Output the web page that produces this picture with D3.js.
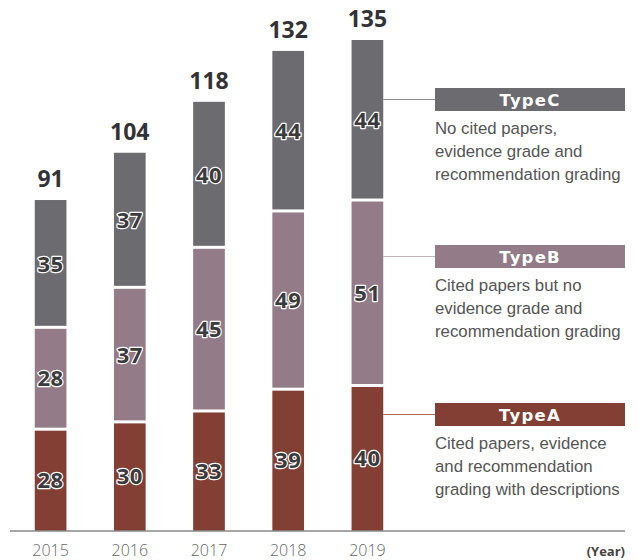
<!DOCTYPE html>
<html>
<head>
<meta charset="utf-8">
<script src="https://cdn.jsdelivr.net/npm/d3@7"></script>
<style>
  body { margin: 0; background: #fff; }
  svg { display: block; }
</style>
</head>
<body>
<svg id="chart" width="638" height="560"></svg>
<script>
// data
let years = ["2015", "2016", "2017", "2018", "2019"];
let typeA = [28, 30, 33, 39, 40];
let typeB = [28, 37, 45, 49, 51];
let typeC = [35, 37, 40, 44, 44];
let totals = [91, 104, 118, 132, 135];
let types = ["TypeA", "TypeB", "TypeC"];
let descriptions = {
  TypeC: ["No cited papers,", "evidence grade and", "recommendation grading"],
  TypeB: ["Cited papers but no", "evidence grade and", "recommendation grading"],
  TypeA: ["Cited papers, evidence", "and recommendation", "grading with descriptions"]
};

let colors = { TypeA: "#843f35", TypeB: "#937b88", TypeC: "#6b6b70" };
let lineColors = { TypeA: "#b5665a", TypeB: "#c2b3bb", TypeC: "#8d8d90" };

let svg = d3.select("#chart");
let baseline = 531;

let x = d3.scaleBand().domain(years).range([11, 407]).paddingInner(0.6).paddingOuter(0.3);
let y = d3.scaleLinear().domain([0, 135]).range([baseline, 40]);

let rows = years.map((yr, i) => ({ year: yr, TypeA: typeA[i], TypeB: typeB[i], TypeC: typeC[i], total: totals[i] }));
let stack = d3.stack().keys(types)(rows);

let gap = 1.5;

// stacked segments
let layers = svg.selectAll(".layer")
  .data(stack)
  .enter()
  .append("g")
  .attr("class", "layer")
  .attr("fill", d => colors[d.key]);

layers.selectAll("rect")
  .data(d => d.map(p => ({ key: d.key, p: p })))
  .enter()
  .append("rect")
  .attr("x", d => x(d.p.data.year))
  .attr("width", x.bandwidth())
  .attr("y", d => y(d.p[1]) + (d.key == "TypeC" ? 0 : gap))
  .attr("height", d => y(d.p[0]) - y(d.p[1]) - (d.key == "TypeC" ? 0 : gap) - (d.key == "TypeA" ? 0 : gap));

// segment values, dark with a white outline
layers.selectAll(".seglabel")
  .data(d => d.map(p => ({ key: d.key, p: p })))
  .enter()
  .append("text")
  .attr("class", "seglabel")
  .attr("x", d => x(d.p.data.year) + x.bandwidth() / 2)
  .attr("y", d => (y(d.p[0]) + y(d.p[1])) / 2 + 8)
  .attr("text-anchor", "middle")
  .attr("font-family", "Open Sans, sans-serif")
  .attr("font-weight", 700)
  .attr("font-size", "22px")
  .attr("letter-spacing", "0.5px")
  .attr("fill", "#3b3b3d")
  .attr("stroke", "#fff")
  .attr("stroke-width", 2.4)
  .attr("paint-order", "stroke")
  .attr("stroke-linejoin", "round")
  .text(d => d.p.data[d.key]);

// totals above the bars
svg.selectAll(".total")
  .data(rows)
  .enter()
  .append("text")
  .attr("class", "total")
  .attr("x", d => x(d.year) + x.bandwidth() / 2)
  .attr("y", d => y(d.total) - 13)
  .attr("text-anchor", "middle")
  .attr("font-family", "Open Sans, sans-serif")
  .attr("font-weight", 700)
  .attr("font-size", "23px")
  .attr("fill", "#333336")
  .text(d => d.total);

// axis line and years
svg.append("line")
  .attr("x1", 10).attr("x2", 625)
  .attr("y1", baseline).attr("y2", baseline)
  .style("stroke", "#8a8a8a")
  .style("stroke-width", 1.5);

svg.selectAll(".year")
  .data(years)
  .enter()
  .append("text")
  .attr("class", "year")
  .attr("x", d => x(d) + x.bandwidth() / 2)
  .attr("y", 556)
  .attr("text-anchor", "middle")
  .attr("font-family", "Open Sans, sans-serif")
  .attr("font-weight", 300)
  .attr("font-size", "16px")
  .attr("fill", "#666")
  .text(d => d);

svg.append("text")
  .attr("x", 625)
  .attr("y", 556)
  .attr("text-anchor", "end")
  .attr("font-family", "Open Sans, sans-serif")
  .attr("font-weight", 700)
  .attr("font-size", "13px")
  .attr("fill", "#444")
  .text("(Year)");

// legend boxes with leader lines
let legendTop = { TypeC: 88, TypeB: 245, TypeA: 403 };
let lastX = x("2019") + x.bandwidth();
let boxX = 435, boxW = 190, boxH = 23;

let legend = svg.selectAll(".legend")
  .data(["TypeC", "TypeB", "TypeA"])
  .enter()
  .append("g")
  .attr("class", "legend")
  .attr("transform", d => "translate(0," + legendTop[d] + ")");

legend.append("line")
  .attr("x1", lastX).attr("x2", boxX)
  .attr("y1", boxH / 2).attr("y2", boxH / 2)
  .style("stroke", d => lineColors[d])
  .style("stroke-width", 1.2);

legend.append("rect")
  .attr("x", boxX).attr("y", 0)
  .attr("width", boxW).attr("height", boxH)
  .attr("fill", d => colors[d]);

legend.append("text")
  .attr("x", boxX + boxW / 2)
  .attr("y", boxH / 2 + 6)
  .attr("text-anchor", "middle")
  .attr("font-family", "DejaVu Sans, sans-serif")
  .attr("font-weight", 700)
  .attr("font-size", "16.5px")
  .attr("letter-spacing", "1.2px")
  .attr("fill", "#fff")
  .text(d => d);

legend.selectAll(".desc")
  .data(d => descriptions[d])
  .enter()
  .append("text")
  .attr("class", "desc")
  .attr("x", boxX)
  .attr("y", (d, i) => 46 + i * 23)
  .attr("font-family", "Liberation Sans, Arial, sans-serif")
  .attr("font-size", "16.8px")
  .attr("fill", "#555")
  .text(d => d);
</script>
</body>
</html>
